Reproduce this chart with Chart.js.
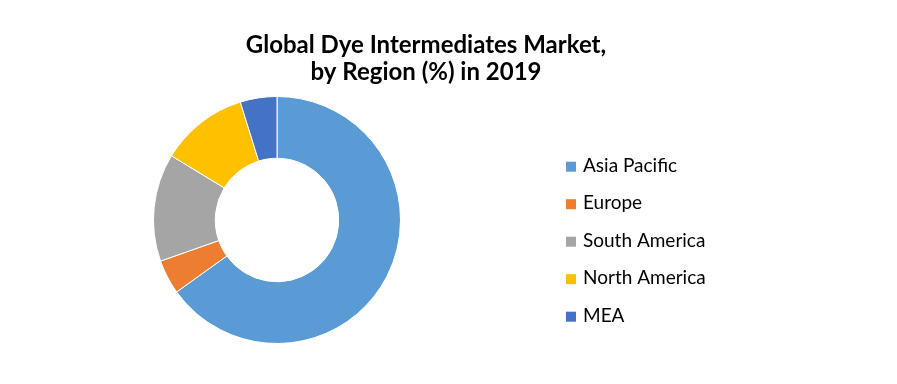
<!DOCTYPE html>
<html>
<head>
<meta charset="utf-8">
<script src="https://cdn.jsdelivr.net/npm/chart.js@4/dist/chart.umd.min.js"></script>
<style>
html,body{margin:0;padding:0;background:#fff;}
#wrap{width:897px;height:384px;}
</style>
</head>
<body>
<div id="wrap"><canvas id="c" width="897" height="384"></canvas></div>
<script>
const titleLines = ["Global Dye Intermediates Market,", "by Region (%) in 2019"];
const regions = ["Asia Pacific", "Europe", "South America", "North America", "MEA"];
const shares = [65.1, 4.5, 14.1, 11.5, 4.8];
const colors = ["#5B9BD5", "#ED7D31", "#A5A5A5", "#FFC000", "#4472C4"];

const customText = {
  id: 'customText',
  afterDraw(chart) {
    const ctx = chart.ctx;
    ctx.save();
    ctx.fillStyle = '#000';
    ctx.textAlign = 'center';
    ctx.textBaseline = 'alphabetic';
    ctx.font = 'bold 24px Lato';
    ctx.fillText(titleLines[0], 426, 53);
    ctx.fillText(titleLines[1], 426, 80);
    // legend
    ctx.textAlign = 'left';
    ctx.font = '19px Lato';
    const labels = chart.data.labels;
    const bg = chart.data.datasets[0].backgroundColor;
    labels.forEach((lab, i) => {
      const y = 171.7 + i * 37.5;
      ctx.fillStyle = bg[i];
      ctx.fillRect(566, y - 10, 10, 10);
      ctx.fillStyle = '#000';
      ctx.fillText(lab, 583, y);
    });
    ctx.restore();
  }
};

new Chart(document.getElementById('c'), {
  type: 'doughnut',
  data: {
    labels: regions,
    datasets: [{
      data: shares,
      backgroundColor: colors,
      borderColor: '#ffffff',
      borderWidth: 1
    }]
  },
  options: {
    responsive: false,
    animation: false,
    devicePixelRatio: 1,
    cutout: '50%',
    layout: { padding: { left: 153, right: 496, top: 96, bottom: 40 } },
    plugins: {
      legend: { display: false },
      title: { display: false },
      tooltip: { enabled: false }
    }
  },
  plugins: [customText]
});
</script>
</body>
</html>
